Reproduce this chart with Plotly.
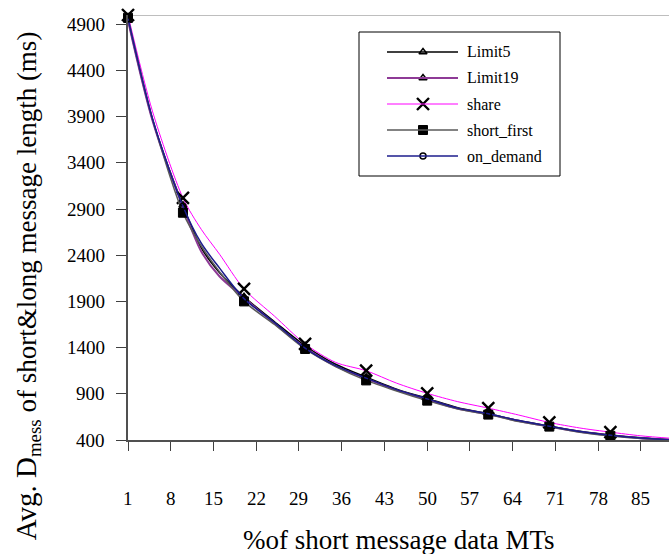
import plotly.graph_objects as go

# % of short-message data MTs (sampled positions along each curve)
pct_short = [1, 5, 10, 13, 16, 20, 25, 30, 35, 40, 45, 50, 55, 60, 65, 70, 75, 80, 85, 90]
# positions that carry a visible marker
marked_pct = [1, 10, 20, 30, 40, 50, 60, 70, 80, 90]

# Avg. D_mess (ms) for each scheduling scheme
limit5 = [4950, 3870, 2940, 2480, 2210, 1950, 1680, 1420, 1220, 1080, 950, 850, 750, 685, 610, 550, 495, 455, 425, 405]
limit19 = [4940, 3860, 2920, 2440, 2170, 1940, 1660, 1400, 1200, 1065, 940, 840, 740, 680, 605, 545, 490, 450, 420, 400]
share = [5000, 3960, 3020, 2680, 2410, 2035, 1740, 1440, 1240, 1150, 1015, 905, 815, 745, 670, 590, 530, 485, 445, 418]
short_first = [4970, 3880, 2860, 2500, 2220, 1900, 1650, 1385, 1195, 1045, 930, 826, 735, 675, 600, 545, 485, 445, 415, 400]
on_demand = [4960, 3880, 2930, 2530, 2260, 1930, 1670, 1395, 1205, 1070, 945, 845, 745, 685, 610, 550, 492, 452, 422, 402]

x_ticks = [1, 8, 15, 22, 29, 36, 43, 50, 57, 64, 71, 78, 85]
y_ticks = [400, 900, 1400, 1900, 2400, 2900, 3400, 3900, 4400, 4900]

SERIF = "Liberation Serif"
W, H = 669, 554
ML, MT, MB = 128, 15, 114
PW, PH = W - ML, H - MT - MB


def px(x):
    return (x - ML) / PW


def py(y):
    return (MT + PH - y) / PH


def rich(s):
    return f"<span style='font-family:{SERIF}'>{s}</span>"


series = [
    ("Limit5", limit5, "#000000", 1.5, "triangle-up-open", 7, 1.5),
    ("Limit19", limit19, "#8E3A96", 2.0, "triangle-up-open", 7, 1.5),
    ("share", share, "#FF00FF", 1.0, "x-thin-open", 12, 2.4),
    ("short_first", short_first, "#5A5A5A", 1.5, "square", 9, 1),
    ("on_demand", on_demand, "#1C1C8C", 1.5, "circle-open", 6, 1.5),
]

fig = go.Figure()
for name, vals, color, lw, sym, msize, mlw in series:
    fig.add_trace(go.Scatter(
        x=pct_short, y=vals, name=name, mode="lines",
        line=dict(color=color, width=lw, shape="spline", smoothing=0.8),
        showlegend=False,
    ))
    mx = [p for p in pct_short if p in marked_pct]
    my = [v for p, v in zip(pct_short, vals) if p in marked_pct]
    fig.add_trace(go.Scatter(
        x=mx, y=my, name=name, mode="markers",
        marker=dict(symbol=sym, size=msize, color="#000000",
                    line=dict(color="#000000", width=mlw)),
        showlegend=False, cliponaxis=False,
    ))

# ---- legend box (drawn in an overlay axis spanning the plot area) ----
row_y = [52, 78, 104, 130, 156]
leg_line_x0, leg_line_x1, leg_mark_x, leg_text_x = 387, 458, 423, 465
for (name, vals, color, lw, sym, msize, mlw), ry in zip(series, row_y):
    fig.add_shape(type="line", xref="paper", yref="paper",
                  x0=px(leg_line_x0), x1=px(leg_line_x1), y0=py(ry), y1=py(ry),
                  line=dict(color=color, width=lw))
    fig.add_trace(go.Scatter(
        x=[px(leg_mark_x)], y=[py(ry)], xaxis="x2", yaxis="y2", mode="markers",
        marker=dict(symbol=sym, size=msize, color="#000000",
                    line=dict(color="#000000", width=mlw)),
        showlegend=False, cliponaxis=False, hoverinfo="skip",
    ))
    fig.add_annotation(text=rich(name), xref="paper", yref="paper",
                       x=px(leg_text_x), y=py(ry), xanchor="left", yanchor="middle",
                       showarrow=False, font=dict(family=SERIF, size=16))

fig.add_shape(type="rect", xref="paper", yref="paper",
              x0=px(359), x1=px(560), y0=py(176), y1=py(32),
              line=dict(color="#000000", width=1), fillcolor="rgba(0,0,0,0)")

fig.update_layout(
    width=W, height=H,
    margin=dict(l=ML, r=0, t=MT, b=MB),
    paper_bgcolor="white", plot_bgcolor="white",
    font=dict(family=SERIF, color="#000000", size=16),
    showlegend=False,
    xaxis=dict(
        range=[1, 89.6], tickmode="array", tickvals=x_ticks, showticklabels=False,
        showgrid=False, zeroline=False,
        showline=True, linecolor="#505050", linewidth=1.5,
        ticks="outside", ticklen=9, tickwidth=1.2, tickcolor="#404040",
    ),
    yaxis=dict(
        range=[400, 5000], tickmode="array", tickvals=y_ticks, showticklabels=False,
        showgrid=False, zeroline=False,
        showline=True, linecolor="#505050", linewidth=1.5,
        ticks="outside", ticklen=10, tickwidth=1.2, tickcolor="#404040",
    ),
    xaxis2=dict(overlaying="x", range=[0, 1], visible=False, fixedrange=True),
    yaxis2=dict(overlaying="y", range=[0, 1], visible=False, fixedrange=True),
)

# tick labels
for v in x_ticks:
    fig.add_annotation(text=rich(v), xref="x", yref="paper", x=v, y=py(498),
                       xanchor="center", yanchor="middle", showarrow=False,
                       font=dict(family=SERIF, size=19))
for v in y_ticks:
    fig.add_annotation(text=rich(v), xref="paper", yref="y", x=px(107), y=v,
                       xanchor="right", yanchor="middle", showarrow=False,
                       font=dict(family=SERIF, size=19))

# top border of the plot area
fig.add_shape(type="line", xref="paper", yref="y", x0=0, x1=1, y0=5000, y1=5000,
              line=dict(color="#A8A8A8", width=1.5), layer="below")

fig.add_annotation(
    text=rich("%of short message data MTs"), xref="paper", yref="paper",
    x=0.5, y=py(540), xanchor="center", yanchor="middle", showarrow=False,
    font=dict(family=SERIF, size=27),
)
fig.add_annotation(
    text="<span style='font-size:29px'>Avg. D</span><sub>mess</sub> of short&long message length (ms)",
    xref="paper", yref="paper", x=px(28), y=py(277) - 0.022, textangle=-90,
    xanchor="center", yanchor="middle", showarrow=False,
    font=dict(family=SERIF, size=27),
)

fig.write_html("out.html")
